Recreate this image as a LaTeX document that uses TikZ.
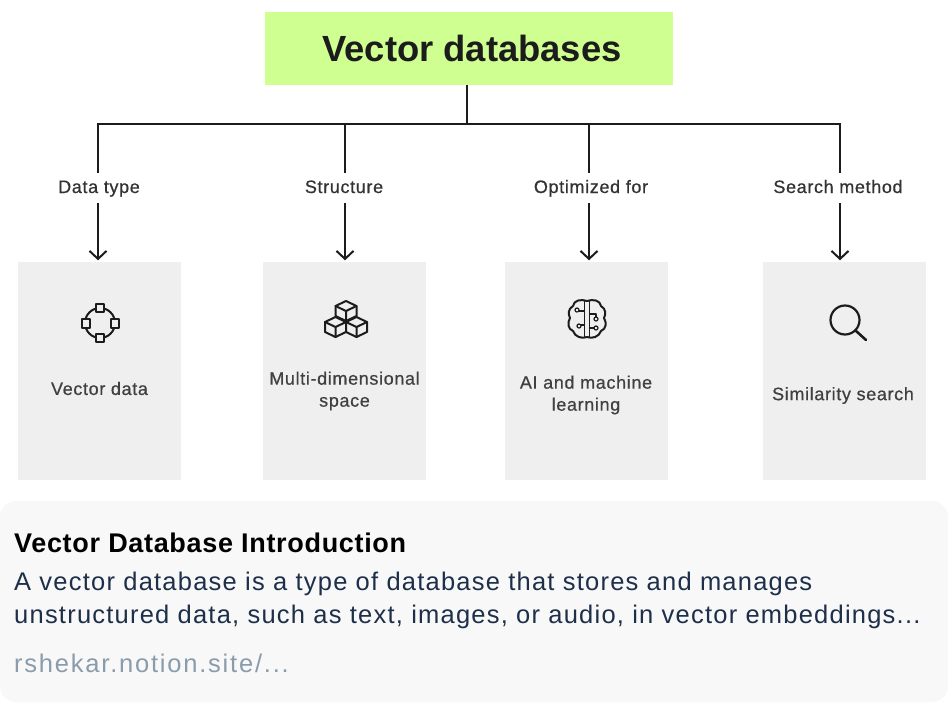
\documentclass[tikz,border=0pt]{standalone}
\usepackage{fontspec}
\setmainfont{Liberation Sans}
\newfontfamily\medfont[FakeBold=0.6,LetterSpace=3.6]{Liberation Sans}
\newfontfamily\cardfont[LetterSpace=4.8]{Liberation Sans}
\newfontfamily\urlfont[LetterSpace=7]{Liberation Sans}
\newfontfamily\headfont[LetterSpace=2.5]{Liberation Sans}
\usepackage{xcolor}
\usetikzlibrary{arrows.meta, positioning, calc}
\definecolor{limebox}{HTML}{CFFF91}
\definecolor{panelgray}{HTML}{EFEFEF}
\definecolor{cardgray}{HTML}{F8F8F8}
\definecolor{cardtext}{HTML}{1E2F4A}
\definecolor{cardurl}{HTML}{8A9CAC}
\definecolor{inkdark}{HTML}{1C1C1C}
\newcommand{\pxfont}[1]{\fontsize{#1}{#1}\selectfont}

\begin{document}
\begin{tikzpicture}[
  x=1pt, y=-1pt,
  title/.style={fill=limebox, minimum width=408pt, minimum height=73pt,
                inner sep=0pt, font=\pxfont{36.4}\bfseries, text=inkdark},
  panel/.style={fill=panelgray, minimum width=163pt, minimum height=218pt,
                inner sep=0pt},
  branch/.style={fill=white, minimum height=30pt, inner sep=1pt, text height=13pt,
                 text depth=3pt, font=\medfont\pxfont{18}, text=black!80},
  caption/.style={align=center, font=\medfont\pxfont{18}, text=black!75, inner sep=0pt},
  line/.style={line width=2pt, draw=inkdark},
  arr/.style={line, shorten >=1.5pt, -{Straight Barb[length=8pt, width=17pt, line width=2pt]}},
  icon/.style={line width=2pt, draw=inkdark, line join=round, line cap=round},
  tiny/.style={icon, fill=panelgray, minimum size=8.5pt, inner sep=0pt, draw, rectangle},
  cube/.pic={
    \draw[icon, fill=panelgray] (0,-10) -- (10.5,-5) -- (10.5,5) -- (0,10) -- (-10.5,5) -- (-10.5,-5) -- cycle;
    \draw[icon] (-10.5,-5) -- (0,0) -- (10.5,-5) (0,0) -- (0,10);
  },
]
\useasboundingbox (0,0) rectangle (948,702);

% Bottom card
\fill[cardgray, rounded corners=16pt] (0,501) rectangle (948,702);
\node[anchor=base west, inner sep=0pt, font=\headfont\pxfont{27}\bfseries, text=black] (cardtitle) at (14,552) {Vector Database Introduction};
\node[anchor=base west, inner sep=0pt, font=\cardfont\pxfont{25.5}, text=cardtext] (cardline1) at (14,590) {A vector database is a type of database that stores and manages};
\node[anchor=base west, inner sep=0pt, font=\cardfont\pxfont{25.5}, text=cardtext] (cardline2) at (14,623) {unstructured data, such as text, images, or audio, in vector embeddings...};
\node[anchor=base west, inner sep=0pt, font=\urlfont\pxfont{25.5}, text=cardurl] (cardurl) at (14,672) {rshekar.notion.site/...};

% Root and panels
\node[title] (root) at (469,48.5) {\hspace*{6pt}Vector databases};
\node[panel] (vecbox) at (99.5,371) {};
\node[panel] (strbox) at (344.5,371) {};
\node[panel] (aibox) at (586.5,371) {};
\node[panel] (simbox) at (844.5,371) {};

% Branch labels
\node[branch] (vecl) at (99,188) {Data type};
\node[branch] (strl) at (344,188) {Structure};
\node[branch] (ail) at (591,188) {Optimized for};
\node[branch] (siml) at (838,188) {Search method};

% Bus
\coordinate (trunk) at (467,124);
\coordinate (busl) at (98,124);
\coordinate (busstr) at (345,124);
\coordinate (busai) at (589,124);
\coordinate (busr) at (840,124);
\draw[line] (root.south -| trunk) -- (trunk);
\draw[line, line cap=rect] (busl) -- (busr);

\draw[line] (busl) -- (busl |- vecl.north);
\draw[line] (busstr) -- (busstr |- strl.north);
\draw[line] (busai) -- (busai |- ail.north);
\draw[line] (busr) -- (busr |- siml.north);

\draw[arr] (busl |- vecl.south) -- (busl |- vecbox.north);
\draw[arr] (busstr |- strl.south) -- (busstr |- strbox.north);
\draw[arr] (busai |- ail.south) -- (busai |- aibox.north);
\draw[arr] (busr |- siml.south) -- (busr |- simbox.north);

% Panel captions
\node[caption] (veccap) at (99.5,388.5) {Vector data};
\node[caption] (strcap) at (344.5,391) {Multi-dimensional\\[4pt]space};
\node[caption] (aicap) at (586,395) {AI and machine\\[4pt]learning};
\node[caption] (simcap) at (843,395.5) {Similarity search};

% Vector icon
\draw[icon] (100,323) circle (15);
\node[tiny] (vectop) at (100,308) {};
\node[tiny] (vecbot) at (100,338) {};
\node[tiny] (vecleft) at (86,323.5) {};
\node[tiny] (vecright) at (115,323.5) {};

% Cube icon
\pic at (346,311) {cube};
\pic at (335.5,327) {cube};
\pic at (356.5,327) {cube};

% Brain icon
\draw[icon] (587,301) .. controls (581,299) and (574,300) .. (573,306)
  .. controls (568,309) and (568,314) .. (570,318)
  .. controls (567,323) and (568,329) .. (573,331)
  .. controls (575,337) and (582,339) .. (587,337)
  .. controls (592,339) and (599,337) .. (601,331)
  .. controls (606,329) and (607,323) .. (604,318)
  .. controls (606,314) and (606,309) .. (601,306)
  .. controls (600,300) and (593,299) .. (587,301) -- cycle;
\draw[icon, line width=1.6pt] (584.5,301) -- (584.5,337) (589.5,301) -- (589.5,337);
\draw[icon, line width=1.2pt] (584.5,311) -- (579,311) (584.5,325) -- (581,325) (589.5,314) -- (596,314) -- (596,317)
  (589.5,328) -- (594,328);
\draw[icon, line width=1.2pt] (577,310) circle (2) (579,326) circle (2) (596,319) circle (2) (596,328) circle (2);

% Search icon
\draw[icon, line width=2.2pt] (845,320) circle (14.5);
\draw[icon, line width=2.6pt] (855.5,330.5) -- (866,340);
\end{tikzpicture}
\end{document}
